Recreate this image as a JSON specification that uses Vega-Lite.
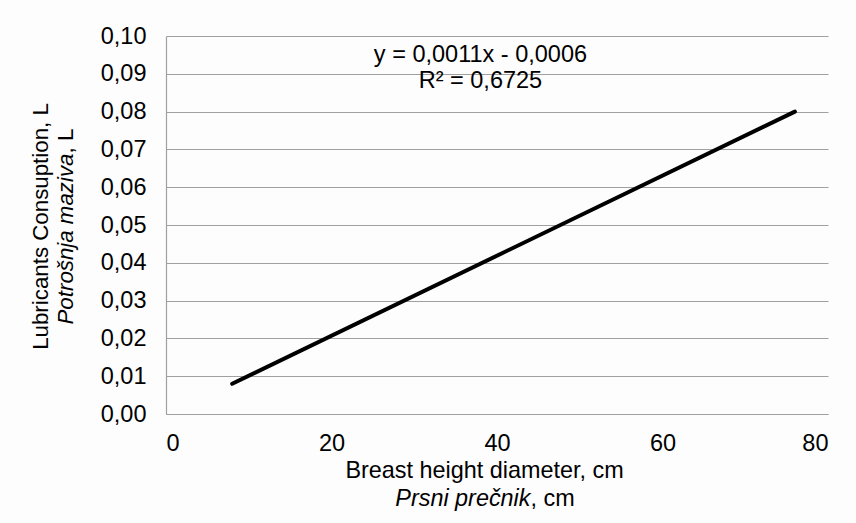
{
  "$schema": "https://vega.github.io/schema/vega-lite/v6.json",
  "width": 662,
  "height": 378,
  "autosize": "none",
  "padding": {"left": 166, "top": 36, "right": 28, "bottom": 109},
  "background": "#fdfdfd",
  "config": {
    "font": "Liberation Sans",
    "view": {"stroke": null},
    "axis": {"labelColor": "#000000", "titleColor": "#000000", "titleFontWeight": "normal", "labelFont": "Liberation Sans", "titleFont": "Liberation Sans"}
  },
  "datasets": {
    "fit": [{"d": 8, "c": 0.008}, {"d": 76, "c": 0.080}],
    "eq": [
      {"d": 38, "c": 0.0932, "t": "y = 0,0011x - 0,0006"},
      {"d": 38, "c": 0.0862, "t": "R² = 0,6725"}
    ]
  },
  "resolve": {"axis": {"x": "independent", "y": "independent"}},
  "layer": [
    {
      "data": {"name": "fit"},
      "mark": {"type": "line", "color": "#000000", "strokeWidth": 4, "strokeCap": "round"},
      "encoding": {
        "x": {
          "field": "d", "type": "quantitative",
          "scale": {"domain": [0, 80], "nice": false, "zero": false},
          "axis": {
            "orient": "bottom", "values": [0, 20, 40, 60, 80],
            "labelFontSize": 23.5, "labelPadding": 17, "ticks": false, "grid": false,
            "domainColor": "#a0a0a0", "domainWidth": 1.2,
            "title": "Breast height diameter, cm", "titleFontSize": 23.4,
            "titleX": 318, "titleY": 63, "titleAlign": "center", "titleBaseline": "alphabetic"
          }
        },
        "y": {
          "field": "c", "type": "quantitative",
          "scale": {"domain": [0, 0.1], "nice": false, "zero": false},
          "axis": {
            "orient": "left",
            "values": [0, 0.01, 0.02, 0.03, 0.04, 0.05, 0.06, 0.07, 0.08, 0.09, 0.1],
            "labelExpr": "replace(format(datum.value, '.2f'), '.', ',')",
            "labelFontSize": 23.5, "labelPadding": 20, "ticks": false,
            "grid": true, "gridColor": "#a0a0a0", "gridWidth": 1.2,
            "domainColor": "#a0a0a0", "domainWidth": 1.2,
            "title": "Lubricants Consuption, L", "titleFontSize": 22.3, "titleAngle": -90,
            "titleX": -119, "titleY": 190, "titleAlign": "center", "titleBaseline": "alphabetic"
          }
        }
      }
    },
    {
      "data": {"name": "eq"},
      "mark": {"type": "text", "fontSize": 23.5, "color": "#000000", "align": "center", "baseline": "alphabetic", "font": "Liberation Sans"},
      "encoding": {
        "x": {
          "field": "d", "type": "quantitative",
          "scale": {"domain": [0, 80], "nice": false, "zero": false},
          "axis": {
            "orient": "bottom", "labels": false, "ticks": false, "domain": false, "grid": false,
            "title": "Prsni prečnik", "titleFontStyle": "italic", "titleFontSize": 23.4,
            "titleX": 364, "titleY": 91, "titleAlign": "right", "titleBaseline": "alphabetic"
          }
        },
        "y": {
          "field": "c", "type": "quantitative",
          "scale": {"domain": [0, 0.1], "nice": false, "zero": false},
          "axis": {
            "orient": "left", "labels": false, "ticks": false, "domain": false, "grid": false,
            "title": "Potrošnja maziva", "titleFontStyle": "italic", "titleFontSize": 22.3, "titleAngle": -90,
            "titleX": -94, "titleY": 117, "titleAlign": "right", "titleBaseline": "alphabetic"
          }
        },
        "text": {"field": "t", "type": "nominal"}
      }
    },
    {
      "data": {"name": "fit"},
      "mark": {"type": "point", "opacity": 0},
      "encoding": {
        "x": {
          "field": "d", "type": "quantitative",
          "scale": {"domain": [0, 80], "nice": false, "zero": false},
          "axis": {
            "orient": "bottom", "labels": false, "ticks": false, "domain": false, "grid": false,
            "title": ", cm", "titleFontSize": 23.4,
            "titleX": 364, "titleY": 91, "titleAlign": "left", "titleBaseline": "alphabetic"
          }
        },
        "y": {
          "field": "c", "type": "quantitative",
          "scale": {"domain": [0, 0.1], "nice": false, "zero": false},
          "axis": {
            "orient": "left", "labels": false, "ticks": false, "domain": false, "grid": false,
            "title": ", L", "titleFontSize": 22.3, "titleAngle": -90,
            "titleX": -94, "titleY": 117, "titleAlign": "left", "titleBaseline": "alphabetic"
          }
        }
      }
    }
  ]
}
